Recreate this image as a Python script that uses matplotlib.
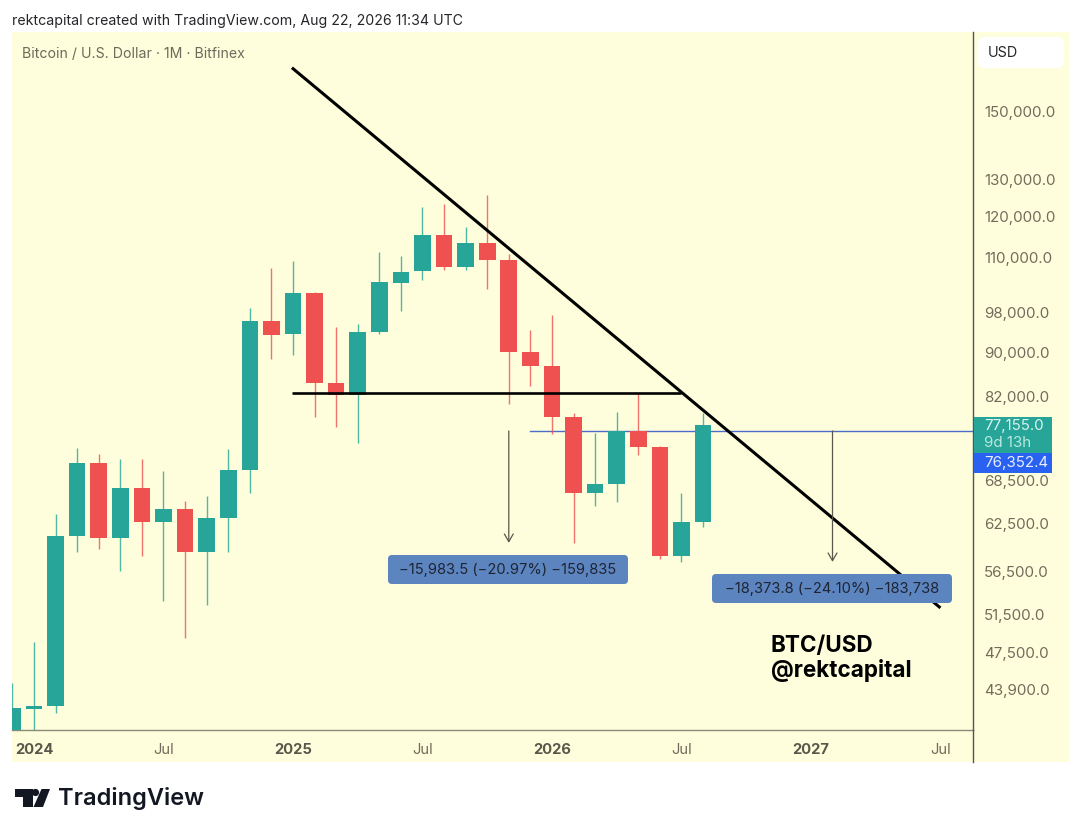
import matplotlib
matplotlib.use("Agg")
import matplotlib.pyplot as plt
from matplotlib.patches import FancyBboxPatch, Rectangle, Polygon, Circle
from matplotlib.ticker import FixedLocator, FixedFormatter, NullLocator

plt.rcParams['font.family'] = ['Inter', 'Liberation Sans', 'DejaVu Sans']

# ---- data: monthly candles, Dec 2023 .. Aug 2026 (index -1 .. 31) ----
first_month = -1
opens = [39060, 42160, 42430, 60900, 71120, 60650, 67450, 62750, 64500, 58870, 63280, 70080,
         96170, 93560, 102080, 84310, 82190, 93960, 104270, 106950, 115470, 107870, 113520, 109490,
         90050, 87400, 78430, 66740, 68030, 76130, 73590, 58370, 62750]
highs = [44560, 48620, 63820, 73430, 72500, 71730, 71730, 69920, 65610, 66310, 73280, 98870,
         107640, 109260, 102300, 94960, 95570, 111370, 110420, 122560, 123350, 117440, 125730, 110890,
         94350, 97410, 79100, 75810, 79270, 82540, 73740, 66740, 79100]
lows = [37040, 39060, 41810, 58870, 59240, 56540, 58370, 53050, 49040, 52600, 58870, 66740,
        88710, 89470, 78430, 76780, 74220, 93560, 98250, 104930, 107190, 107190, 102950, 80630,
        83770, 75650, 60010, 64910, 65470, 72340, 58000, 57630, 62080]
closes = [42250, 42430, 60900, 71120, 60650, 67450, 62750, 64500, 58870, 63280, 70080, 96170,
          93360, 102080, 84310, 82190, 93960, 104500, 106730, 115470, 107870, 113520, 109490, 90050,
          87400, 78430, 66740, 68030, 76130, 73590, 58370, 62750, 77155]

price_ticks = [150000, 130000, 120000, 110000, 98000, 90000, 82000, 68500, 62500, 56500, 51500, 47500, 43900]
price_labels = ['150,000.0', '130,000.0', '120,000.0', '110,000.0', '98,000.0', '90,000.0', '82,000.0',
                '68,500.0', '62,500.0', '56,500.0', '51,500.0', '47,500.0', '43,900.0']
time_ticks = [0, 6, 12, 18, 24, 30, 36, 42]
time_labels = ['2024', 'Jul', '2025', 'Jul', '2026', 'Jul', '2027', 'Jul']

trend_x = [11.95, 42]
trend_y = [164800, 52260]
support_x = [11.95, 30]
support_y = [82500, 82500]
level_x_start = 23
level_price = 76130
arrow_x = [22, 37]
arrow_targets = [60010, 57630]

measure_labels = ['\u221215,983.5 (\u221220.97%) \u2212159,835', '\u221218,373.8 (\u221224.10%) \u2212183,738']

# ---- styles ----
BG = '#FEFEDC'
GREEN = '#26A598'
RED = '#EF5050'
GREY = '#716B5C'
W, H = 1080, 834

fig = plt.figure(figsize=(W / 100, H / 100), dpi=100, facecolor='white')

under = fig.add_axes([0, 0, 1, 1], zorder=0)
under.set_xlim(0, W); under.set_ylim(H, 0); under.axis('off')
under.add_patch(Rectangle((12, 32), 1057, 730, fc=BG, ec='none'))

ax = fig.add_axes([12 / W, (H - 730) / H, 961 / W, 698 / H], zorder=1)
ax.patch.set_alpha(0)
ax.set_yscale('log')
ax.set_xlim(-1.02, 43.51)
ax.set_ylim(40310, 177800)

for i, (o, h, l, c) in enumerate(zip(opens, highs, lows, closes)):
    x = first_month + i
    col = GREEN if c >= o else RED
    ax.vlines(x, l, h, color=col, lw=1.0, alpha=0.8, zorder=2)
    ax.bar(x, abs(c - o), bottom=min(o, c), width=0.77, color=col, lw=0, zorder=3)

ax.plot(support_x, support_y, color='black', lw=1.9, solid_capstyle='butt', zorder=4)
ax.plot(trend_x, trend_y, color='black', lw=2.2, solid_capstyle='butt', zorder=4)
ax.plot([level_x_start, 43.51], [level_price, level_price], color='#4C6CCB', lw=1.0, zorder=1)

for x, t in zip(arrow_x, arrow_targets):
    ax.annotate('', xy=(x, t), xytext=(x, level_price),
                arrowprops=dict(arrowstyle='->,head_length=0.55,head_width=0.32', color='#5A574C',
                                lw=0.9, shrinkA=0, shrinkB=0), zorder=5)

for s in ['top', 'left']:
    ax.spines[s].set_visible(False)
ax.spines['right'].set_color('#555550'); ax.spines['right'].set_linewidth(1.0)
ax.spines['bottom'].set_color('#8A8A78'); ax.spines['bottom'].set_linewidth(1.0)

ax.yaxis.tick_right()
ax.yaxis.set_major_locator(FixedLocator(price_ticks))
ax.yaxis.set_major_formatter(FixedFormatter(price_labels))
ax.yaxis.set_minor_locator(NullLocator())
ax.tick_params(axis='y', length=0, pad=8, labelsize=10.9, labelcolor=GREY)
ax.set_xticks(time_ticks)
ax.set_xticklabels(time_labels)
ax.tick_params(axis='x', length=0, pad=9, labelsize=10.6, labelcolor=GREY)
for lab, txt in zip(ax.get_xticklabels(), time_labels):
    if txt != 'Jul':
        lab.set_fontweight('bold')
        lab.set_color('#5A564B')

# ---- overlay in pixel coordinates ----
top = fig.add_axes([0, 0, 1, 1], zorder=2)
top.set_xlim(0, W); top.set_ylim(H, 0); top.axis('off'); top.patch.set_alpha(0)

top.plot([973, 973], [730, 762], color='#555550', lw=1.0)

top.text(12, 21, 'rektcapital created with TradingView.com, Aug 22, 2026 11:34 UTC',
         fontsize=10.2, color='#26262A', va='center', ha='left')
top.text(22, 53.5, 'Bitcoin / U.S. Dollar \u00b7 1M \u00b7 Bitfinex', fontsize=10.2, color='#6C6B5C', va='center', ha='left')

top.add_patch(FancyBboxPatch((982, 41), 78, 23, boxstyle='round,pad=0,rounding_size=3', fc='white', ec='white', lw=6))
top.text(988, 52.5, 'USD', fontsize=10.4, color='#26262A', va='center', ha='left')

# last-price labels
top.add_patch(Rectangle((974, 417), 78, 36, fc=GREEN, ec='none'))
top.add_patch(Rectangle((974, 453), 78, 20, fc='#2962F0', ec='none'))
top.text(984, 425.5, '77,155.0', fontsize=10.9, color='#D8F4EE', va='center', ha='left')
top.text(984, 442.5, '9d 13h', fontsize=10.9, color='#BCE8DF', va='center', ha='left')
top.text(984, 462.5, '76,352.4', fontsize=10.9, color='#E8EEFF', va='center', ha='left')

# measure boxes
for (x0, y0), s in zip([(388, 555), (712, 574)], measure_labels):
    top.add_patch(FancyBboxPatch((x0 + 4, y0 + 4), 232, 21, boxstyle='round,pad=4,rounding_size=4',
                                 fc='#5C84BF', ec='none'))
    top.text(x0 + 120, y0 + 15, s, fontsize=10.6, color='#1E2433', va='center', ha='center')

top.text(771, 646, 'BTC/USD', fontsize=16.2, fontweight='bold', color='black', va='center', ha='left')
top.text(771, 670, '@rektcapital', fontsize=16.2, fontweight='bold', color='black', va='center', ha='left')

# TradingView logo
LOGO = '#131722'
top.add_patch(Polygon([(14.5, 789), (33, 789), (33, 807), (23, 807), (23, 796.5), (14.5, 796.5)], fc=LOGO, ec='none'))
top.add_patch(Circle((35.5, 792.5), 3.6, fc=LOGO, ec='none'))
top.add_patch(Polygon([(41.5, 789), (50, 789), (43, 807), (33.5, 807)], fc=LOGO, ec='none'))
top.text(58, 798, 'TradingView', fontsize=17, fontweight='semibold', color=LOGO, va='center', ha='left')

fig.savefig('out.png', dpi=100, facecolor='white')
